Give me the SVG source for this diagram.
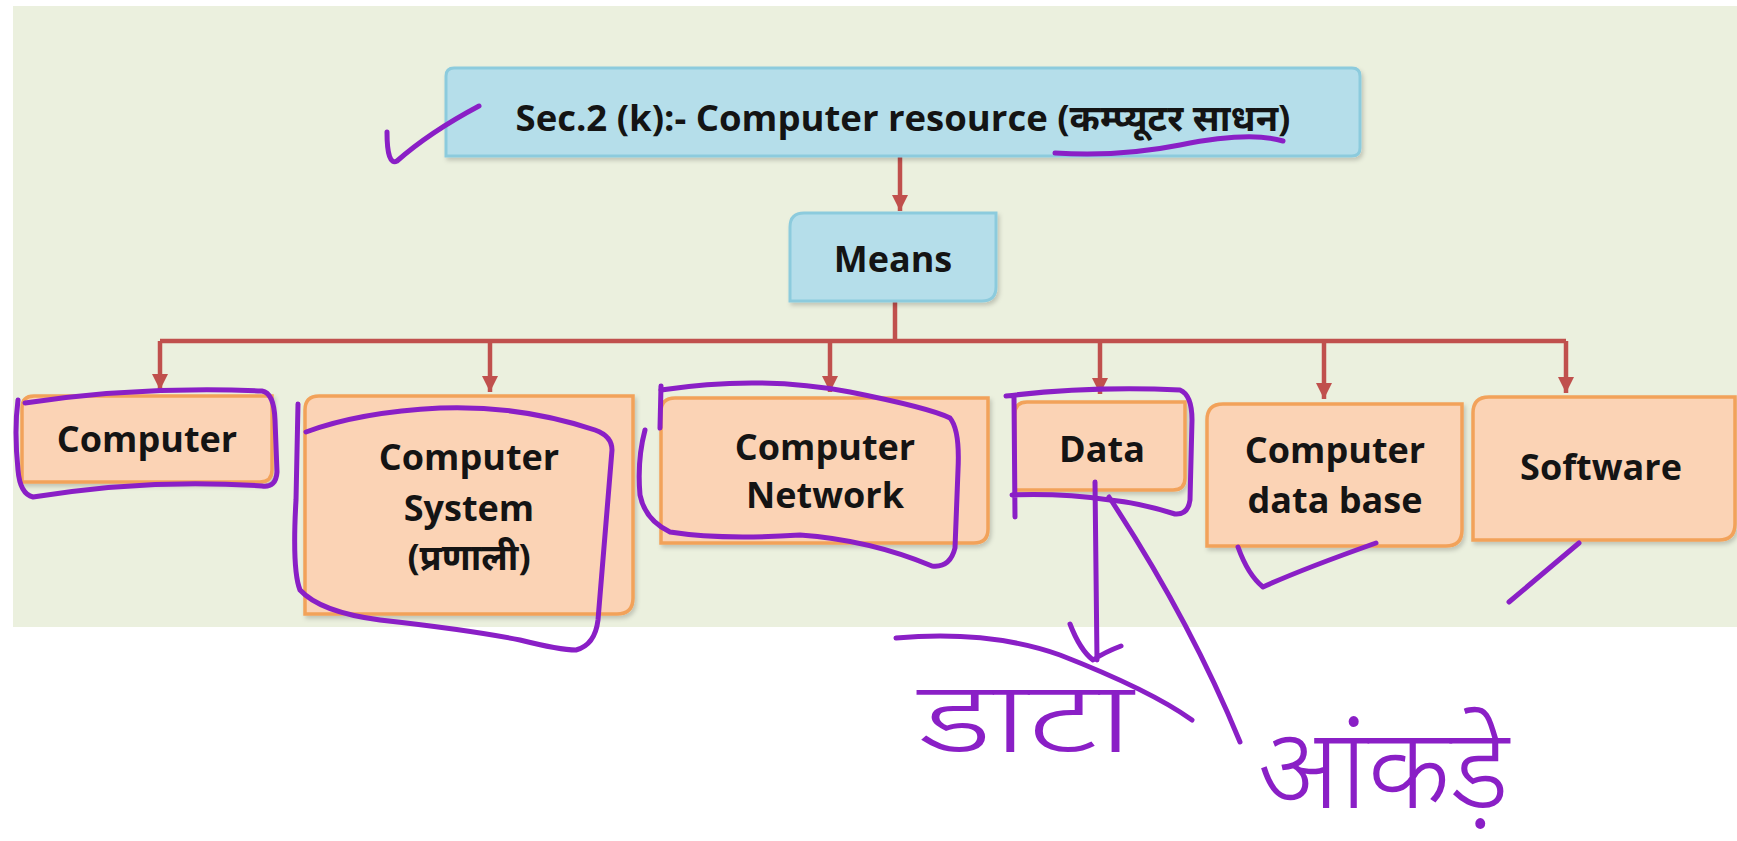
<svg xmlns="http://www.w3.org/2000/svg" width="1737" height="841" viewBox="0 0 1737 841">
<defs>
<style>
.panel{fill:#ebf0de}
.blue{fill:#b5deea;stroke:#8ccbdd;stroke-width:3}
.orange{fill:#fbd3b5;stroke:#f2a25a;stroke-width:3.5}
.t{font-family:"Open Sans","Noto Sans","Noto Sans Devanagari",sans-serif;font-weight:bold;fill:#141414;text-anchor:middle}
.c{font-size:36px}
.conn{stroke:#c0504d;fill:none;stroke-width:4.5}
.ink{stroke:#8a1fc6;fill:none;stroke-width:5;stroke-linecap:round;stroke-linejoin:round}
.hw{font-family:"Noto Sans","Noto Sans Devanagari",sans-serif;fill:#8a1fc6;font-weight:300}
</style>
<marker id="ah" markerUnits="userSpaceOnUse" markerWidth="18" markerHeight="16" refX="16" refY="8" orient="auto">
<path d="M0,0 L16,8 L0,16 Z" fill="#c0504d"/>
</marker>
<filter id="sh" x="-5%" y="-5%" width="115%" height="120%">
<feDropShadow dx="2" dy="3" stdDeviation="2" flood-color="#000" flood-opacity="0.18"/>
</filter>
</defs>
<rect x="0" y="0" width="1737" height="841" fill="#ffffff"/>
<rect class="panel" x="13" y="6" width="1724" height="621"/>

<g id="connectors">
<path class="conn" d="M900 157 V211" marker-end="url(#ah)"/>
<path class="conn" d="M895 301 V341"/>
<path class="conn" d="M160 341 H1566" stroke-width="6"/>
<path class="conn" d="M160 341 V390" marker-end="url(#ah)"/>
<path class="conn" d="M490 341 V392" marker-end="url(#ah)"/>
<path class="conn" d="M830 341 V392" marker-end="url(#ah)"/>
<path class="conn" d="M1100 341 V394" marker-end="url(#ah)"/>
<path class="conn" d="M1324 341 V399" marker-end="url(#ah)"/>
<path class="conn" d="M1566 341 V393" marker-end="url(#ah)"/>
</g>

<g id="node-title">
<path class="blue" filter="url(#sh)" d="M454 68 H1352 Q1360 68 1360 76 V148 Q1360 156 1352 156 H446 V76 Q446 68 454 68 Z"/>
<text class="t" x="903" y="131" font-size="36.5">Sec.2 (k):- Computer resource (कम्प्यूटर साधन)</text>
</g>

<g id="node-means">
<path class="blue" filter="url(#sh)" d="M804 213 H996 V287 Q996 301 982 301 H790 V227 Q790 213 804 213 Z"/>
<text class="t c" x="893" y="272">Means</text>
</g>

<g id="node-computer">
<path class="orange" filter="url(#sh)" d="M34 396 H272 V470 Q272 482 260 482 H22 V408 Q22 396 34 396 Z"/>
<text class="t c" x="147" y="452">Computer</text>
</g>

<g id="node-computer-system">
<path class="orange" filter="url(#sh)" d="M319 396 H633 V598 Q633 614 617 614 H305 V410 Q305 396 319 396 Z"/>
<text class="t c" x="469" y="470">Computer</text>
<text class="t c" x="469" y="521">System</text>
<text class="t c" x="469" y="570">(प्रणाली)</text>
</g>

<g id="node-computer-network">
<path class="orange" filter="url(#sh)" d="M675 398 H988 V529 Q988 543 974 543 H661 V412 Q661 398 675 398 Z"/>
<text class="t c" x="825" y="460">Computer</text>
<text class="t c" x="825" y="508">Network</text>
</g>

<g id="node-data">
<path class="orange" filter="url(#sh)" d="M1027 402 H1185 V478 Q1185 490 1173 490 H1015 V414 Q1015 402 1027 402 Z"/>
<text class="t c" x="1102" y="462">Data</text>
</g>

<g id="node-computer-data-base">
<path class="orange" filter="url(#sh)" d="M1223 404 H1462 V530 Q1462 546 1446 546 H1207 V420 Q1207 404 1223 404 Z"/>
<text class="t c" x="1335" y="463">Computer</text>
<text class="t c" x="1335" y="513">data base</text>
</g>

<g id="node-software">
<path class="orange" filter="url(#sh)" d="M1489 397 H1735 V524 Q1735 540 1719 540 H1473 V413 Q1473 397 1489 397 Z"/>
<text class="t c" x="1601" y="480">Software</text>
</g>

<g id="annotations">
<path class="ink" d="M387 132 Q387 166 397 161 Q430 132 479 106"/>
<path class="ink" d="M1055 153 Q1120 157 1180 145 Q1250 131 1283 141"/>
<path class="ink" d="M25 403 Q140 386 262 391 Q274 393 275 420 L277 472 Q276 488 262 486 Q150 478 33 497 Q20 494 18 470 Q14 430 18 400"/>
<path class="ink" d="M298 404 L296 500 Q292 570 300 590 Q320 612 380 620 Q470 630 520 640 Q560 650 576 650 Q595 645 598 620 L612 450 Q612 436 595 430 Q520 405 440 408 Q360 412 306 432"/>
<path class="ink" d="M661 386 L660 428"/>
<path class="ink" d="M661 390 Q760 375 850 392 Q930 408 950 418 Q960 430 958 470 L955 548 Q950 568 932 566 Q870 540 800 535 Q720 540 670 532 Q645 520 640 495 Q637 460 645 430"/>
<path class="ink" d="M1006 396 Q1090 386 1180 390 Q1192 395 1192 420 L1190 500 Q1188 515 1175 514 Q1140 503 1110 500 Q1060 493 1012 495 M1014 397 L1015 517"/>
<path class="ink" d="M1095 482 L1097 660 M1070 624 Q1080 650 1093 660 Q1105 652 1121 646"/>
<path class="ink" d="M896 638 Q990 630 1060 655 Q1150 690 1192 720"/>
<path class="ink" d="M1109 497 Q1190 620 1240 742"/>
<path class="ink" d="M1238 547 Q1248 575 1263 587 Q1300 570 1376 543"/>
<path class="ink" d="M1579 543 L1509 602"/>
<text class="hw" transform="translate(918 752) scale(1.45 1)" font-size="100">डाटा</text>
<text class="hw" transform="translate(1258 808) scale(1.02 1)" font-size="112">आंकड़े</text>
</g>
</svg>
